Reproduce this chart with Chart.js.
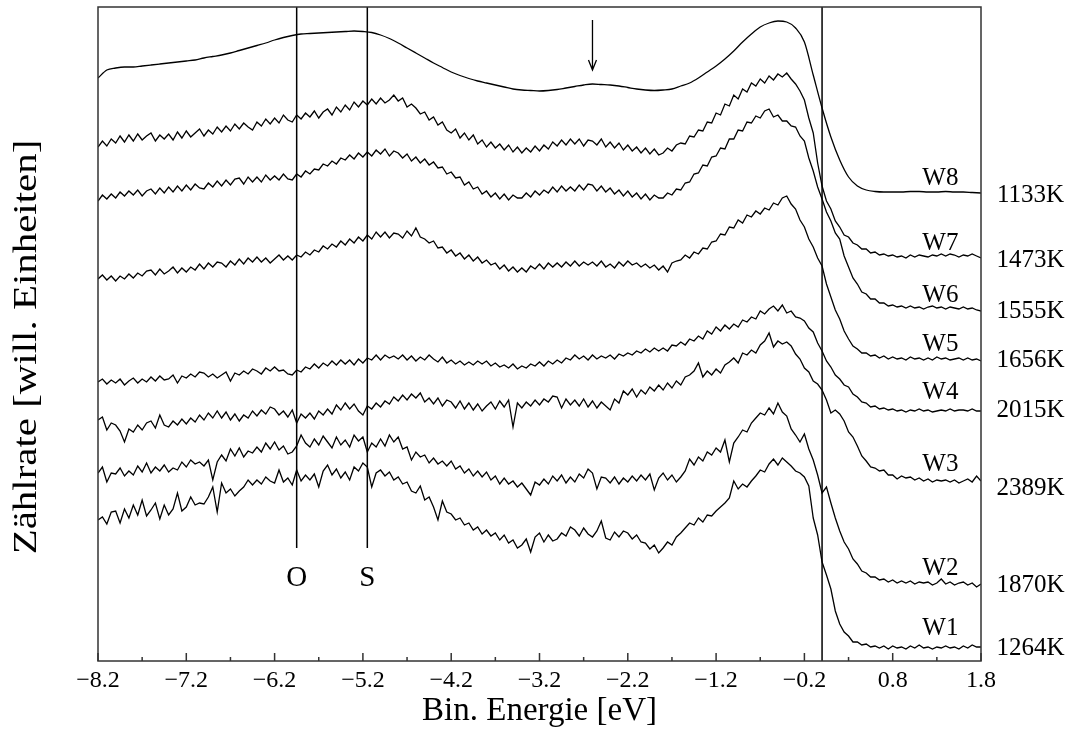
<!DOCTYPE html>
<html lang="de">
  <head>
    <meta charset="UTF-8" />
    <title>Valenzband-Spektren W1-W8</title>
    <script src="https://cdn.jsdelivr.net/npm/chart.js"></script>
    <style>
      body {
        margin: 0;
        padding: 0;
        background: #fff;
      }
      #spectra {
        display: block;
      }
    </style>
  </head>
  <body>
    <canvas id="spectra" width="1066" height="729"></canvas>
    <script>
      // energy grid of the measured spectra (eV)
      const fineStart = -8.2;
      const fineStep = 0.05; // W1..W7, 201 points
      const coarseStep = 0.1; // W8, 101 points

      // counts in arbitrary units, offsets already included
      const w8 = [
        583, 591, 593, 594, 594, 595, 596, 597, 598, 599,
        600, 601, 603, 604.5, 606, 608, 610.5, 613, 615.5, 618,
        621, 623.5, 625.5, 627, 627.5, 628, 628.5, 629, 629.5, 630,
        629.5, 628.5, 626, 622.5, 618, 613, 608, 603, 598, 593.5,
        589, 585.5, 582.5, 580, 578, 576, 574, 572, 571, 570.5,
        570, 570.5, 571.5, 573, 574.5, 576, 577, 576.5, 576, 575,
        573.5, 572, 571, 570.5, 571, 572, 575, 578, 583, 589,
        595, 602, 610, 619, 627, 634, 638, 640, 639, 633,
        619, 586, 553, 524, 501, 484, 475, 471, 469.5, 469,
        469, 469, 469.5, 469.5, 469, 469, 469.5, 469, 469, 468.5, 468
      ];
      const w7 = [
        514, 520, 515, 522, 518, 525, 519, 526, 520, 527, 521, 525, 528, 520, 526, 522,
        527, 521, 529, 523, 530, 524, 528, 532, 525, 531, 527, 534, 529, 535, 530, 537,
        532, 538, 534, 531, 539, 535, 542, 537, 543, 538, 546, 541, 539, 546, 542, 548,
        544, 550, 543, 549, 552, 546, 554, 549, 556, 551, 559, 554, 560, 556, 562, 557,
        563, 558, 561, 566, 560, 563, 554, 557, 553, 547, 549, 541, 544, 536, 539, 531,
        528, 532, 523, 528, 521, 526, 517, 521, 514, 519, 513, 517, 511, 516, 509, 514,
        508, 513, 509, 515, 510, 516, 512, 519, 515, 521, 516, 522, 517, 522, 515, 521,
        520, 516, 522, 514, 519, 513, 518, 511, 516, 510, 514, 508, 513, 507, 512, 506,
        508, 513, 510, 516, 518, 517, 525, 524, 531, 530, 539, 538, 548, 546, 557, 555,
        566, 562, 572, 569, 578, 575, 582, 578, 585, 581, 587, 584, 588, 582, 577, 570,
        561, 543, 528, 498, 475, 460, 452, 440, 434, 426, 424, 418, 416, 412, 412, 408,
        409, 406, 407, 405, 406, 404, 405, 403, 406, 404, 406, 405, 404, 406, 405, 407,
        405, 407, 406, 404, 406, 405, 407, 405, 403
      ];
      const w6 = [
        460, 466, 462, 467, 463, 469, 465, 470, 466, 471, 465, 470, 472, 467, 473, 468,
        474, 469, 475, 470, 476, 471, 477, 473, 472, 478, 474, 480, 475, 481, 476, 482,
        483, 477, 484, 479, 484, 479, 486, 481, 485, 481, 487, 482, 481, 487, 484, 490,
        487, 492, 491, 497, 495, 500, 497, 503, 501, 506, 502, 508, 504, 509, 505, 511,
        507, 512, 505, 510, 508, 503, 507, 500, 504, 498, 502, 496, 499, 493, 494, 487,
        489, 483, 484, 476, 479, 472, 474, 467, 470, 464, 468, 462, 467, 461, 466, 463,
        463, 468, 464, 470, 466, 471, 468, 474, 469, 475, 470, 474, 470, 476, 471, 477,
        476, 470, 475, 469, 473, 467, 471, 465, 470, 464, 468, 462, 467, 461, 466, 463,
        463, 468, 466, 472, 471, 478, 479, 487, 488, 496, 495, 504, 505, 513, 512, 522,
        522, 531, 530, 539, 538, 545, 543, 550, 552, 544, 546, 540, 540, 535, 534, 525,
        520, 503, 490, 474, 462, 449, 440, 428, 422, 405, 394, 383, 377, 369, 367, 362,
        362, 358, 358, 355, 356, 354, 355, 353, 355, 353, 354, 352, 354, 355, 353, 354,
        352, 354, 353, 352, 354, 352, 353, 351, 350
      ];
      const w5 = [
        382, 386, 381, 385, 380, 385, 382, 387, 383, 388, 385, 390, 391, 386, 392, 387,
        390, 394, 388, 393, 389, 394, 391, 397, 392, 398, 394, 399, 398, 394, 400, 396,
        402, 397, 403, 399, 404, 399, 403, 398, 402, 406, 401, 405, 401, 406, 404, 409,
        406, 411, 409, 415, 412, 417, 414, 420, 416, 422, 418, 424, 420, 426, 422, 429,
        424, 429, 423, 428, 427, 423, 430, 425, 433, 424, 422, 418, 420, 413, 414, 408,
        411, 405, 408, 402, 406, 400, 404, 398, 401, 396, 398, 392, 396, 390, 394, 389,
        393, 389, 395, 392, 397, 392, 398, 394, 398, 394, 399, 395, 400, 395, 399, 396,
        399, 395, 400, 394, 397, 393, 399, 395, 400, 396, 398, 394, 397, 393, 396, 391,
        395, 389, 398, 400, 401, 406, 403, 409, 407, 413, 412, 419, 420, 427, 426, 434,
        433, 441, 438, 446, 444, 450, 447, 453, 451, 458, 456, 463, 465, 457, 452, 441,
        434, 422, 414, 403, 395, 377, 364, 351, 342, 330, 322, 315, 312, 308, 308, 305,
        306, 303, 305, 302, 304, 302, 303, 301, 304, 302, 303, 301, 303, 301, 304, 302,
        303, 301, 302, 303, 301, 303, 301, 302, 300
      ];
      const w4 = [
        279, 282, 277, 281, 278, 282, 276, 280, 283, 278, 282, 279, 284, 280, 285, 281,
        282, 286, 278, 285, 283, 287, 284, 289, 288, 284, 287, 283, 286, 289, 280, 288,
        286, 290, 287, 292, 290, 287, 293, 290, 294, 290, 291, 287, 286, 291, 289, 294,
        292, 297, 293, 298, 295, 300, 296, 301, 297, 301, 296, 302, 298, 303, 301, 306,
        301, 306, 303, 305, 302, 306, 301, 305, 300, 304, 301, 306, 302, 299, 304, 298,
        301, 297, 300, 296, 299, 296, 300, 297, 300, 295, 298, 294, 296, 293, 297, 292,
        295, 293, 297, 295, 299, 295, 300, 297, 301, 298, 303, 301, 306, 302, 305, 301,
        306, 302, 305, 303, 306, 302, 307, 305, 308, 306, 310, 308, 312, 309, 313, 310,
        313, 310, 316, 315, 319, 316, 322, 320, 325, 322, 330, 327, 334, 330, 336, 332,
        337, 334, 341, 339, 344, 342, 350, 347, 352, 355, 350, 356, 348, 350, 344, 343,
        340, 333, 329, 318, 310, 300, 294, 286, 282, 276, 274, 267, 264, 259, 258, 254,
        255, 252, 253, 251, 252, 250, 251, 249, 251, 250, 252, 250, 251, 249, 250, 251,
        250, 252, 250, 251, 251, 250, 252, 250, 250
      ];
      const w3 = [
        241, 244, 231, 238, 236, 230, 219, 232, 229, 236, 231, 238, 240, 233, 246, 236,
        234, 240, 236, 242, 237, 243, 239, 246, 241, 248, 243, 250, 243, 249, 241, 247,
        240, 246, 243, 250, 245, 251, 247, 254, 252, 246, 250, 244, 251, 238, 247, 243,
        248, 242, 250, 246, 252, 247, 256, 251, 258, 252, 257, 250, 246, 255, 252, 258,
        254, 260, 257, 264, 260, 266, 261, 267, 263, 268, 259, 263, 257, 263, 255, 261,
        259, 253, 260, 252, 258, 251, 257, 250, 255, 259, 252, 260, 254, 261, 234, 258,
        253, 259, 255, 261, 256, 262, 259, 265, 264, 253, 262, 256, 261, 255, 262, 254,
        260, 253, 259, 255, 251, 262, 258, 270, 266, 272, 264, 271, 267, 274, 270, 276,
        271, 278, 273, 280, 276, 284, 286, 290, 298, 284, 290, 286, 292, 288, 296, 299,
        303, 298, 308, 306, 311, 308, 316, 320, 328, 314, 320, 317, 319, 315, 307, 302,
        293, 289, 280, 277, 271, 261, 248, 251, 247, 240, 229, 224, 215, 205, 200, 194,
        193, 190, 191, 186, 186, 182, 185, 183, 184, 181, 183, 180, 182, 179, 181, 180,
        181, 179, 181, 178, 180, 182, 179, 185, 180
      ];
      const w2 = [
        188, 194, 179, 188, 187, 193, 185, 190, 186, 195, 189, 198, 188, 194, 190, 196,
        189, 193, 191, 199, 194, 201, 197, 199, 195, 201, 181, 199, 206, 200, 212, 205,
        213, 204, 210, 208, 214, 209, 218, 212, 219, 211, 215, 207, 209, 215, 226, 218,
        214, 222, 216, 225, 219, 213, 224, 216, 221, 214, 226, 220, 224, 209, 218, 214,
        222, 215, 226, 219, 224, 212, 214, 201, 209, 204, 206, 198, 203, 197, 200, 195,
        200, 192, 195, 188, 192, 185, 190, 184, 189, 181, 185, 177, 183, 177, 180, 174,
        178, 172, 166, 179, 176, 182, 177, 185, 180, 186, 178, 184, 179, 187, 183, 192,
        188, 172, 184, 183, 178, 184, 177, 183, 179, 185, 180, 186, 181, 187, 171, 183,
        188, 181, 186, 179, 184, 190, 202, 196, 204, 200, 209, 206, 213, 209, 221, 199,
        218, 224, 231, 229, 238, 243, 248, 246, 253, 247, 258, 249, 245, 232, 226, 219,
        227, 212, 201, 186, 168, 174, 158, 143, 130, 119, 112, 102, 97, 90, 88, 84,
        84, 81, 82, 79, 81, 78, 80, 78, 80, 77, 79, 78, 79, 76, 78, 82,
        77, 79, 76, 78, 79, 76, 78, 74, 77
      ];
      const w1 = [
        141, 144, 137, 149, 150, 138, 152, 143, 156, 146, 161, 145, 151, 158, 142, 156,
        146, 152, 168, 150, 154, 164, 156, 158, 157, 164, 174, 149, 178, 168, 172, 165,
        170, 174, 181, 176, 181, 177, 184, 180, 178, 191, 179, 183, 176, 191, 180, 186,
        181, 187, 174, 190, 196, 186, 192, 183, 189, 181, 194, 190, 198, 194, 174, 188,
        191, 185, 189, 181, 184, 177, 179, 170, 168, 175, 161, 164, 154, 141, 160, 149,
        147, 141, 143, 136, 138, 131, 134, 127, 131, 125, 128, 121, 126, 118, 121, 113,
        116, 122, 109, 124, 128, 119, 126, 120, 122, 128, 125, 134, 131, 125, 133, 127,
        124, 130, 140, 123, 121, 129, 124, 130, 128, 122, 126, 119, 118, 112, 116, 108,
        113, 119, 116, 124, 128, 133, 138, 136, 143, 139, 146, 145, 150, 154, 158, 163,
        180, 172, 177, 174, 180, 185, 191, 189, 197, 202, 196, 203, 199, 195, 190, 188,
        184, 175, 143, 126, 99, 86, 72, 50, 37, 29, 25, 19, 19, 16, 17, 14,
        15, 13, 15, 12, 15, 13, 14, 12, 15, 13, 16, 13, 14, 12, 14, 13,
        15, 13, 14, 12, 15, 13, 16, 14, 14
      ];

      const waferNames = ["W1", "W2", "W3", "W4", "W5", "W6", "W7", "W8"];
      const temperatures = ["1264K", "1870K", "2389K", "2015K", "1656K", "1555K", "1473K", "1133K"];
      const nameLevels = [33, 93, 197, 269, 317, 366, 418, 483];
      const tempLevels = [13, 76, 173, 251, 301, 350, 401, 466];
      const nameEnergy = 1.34;
      const tempEnergy = 2.36;

      // x axis ticks
      const majorTicks = [-8.2, -7.2, -6.2, -5.2, -4.2, -3.2, -2.2, -1.2, -0.2, 0.8, 1.8];
      const minorTicks = [-7.7, -6.7, -5.7, -4.7, -3.7, -2.7, -1.7, -0.7, 0.3, 1.3];

      // O / S / Fermi markers and the arrow
      const markerEnergies = [-5.95, -5.15, 0.0];
      const markerBottoms = [113, 113, 0];
      const markerLabels = ["O", "S", ""];
      const markerTop = 654;
      const arrowEnergy = -2.6;
      const arrowFrom = 641;
      const arrowTo = 591;

      const yMax = 654;
      const serif = '"Liberation Serif", "Times New Roman", serif';

      function toPoints(values, step) {
        return values.map((v, i) => ({ x: fineStart + i * step, y: v }));
      }

      const spectra = [w1, w2, w3, w4, w5, w6, w7];
      const datasets = spectra.map((vals, k) => ({
        label: waferNames[k],
        data: toPoints(vals, fineStep),
        borderColor: "#000",
        borderWidth: 1.3,
        pointRadius: 0,
        tension: 0,
      }));
      datasets.push({
        label: "W8",
        data: toPoints(w8, coarseStep),
        borderColor: "#000",
        borderWidth: 1.3,
        pointRadius: 0,
        cubicInterpolationMode: "monotone",
      });
      markerEnergies.forEach((e, i) => {
        datasets.push({
          label: "marker" + i,
          data: [
            { x: e, y: markerBottoms[i] },
            { x: e, y: markerTop },
          ],
          borderColor: "#000",
          borderWidth: 1.5,
          pointRadius: 0,
        });
      });

      const fmt = (v) => (v < 0 ? "\u2212" : "") + Math.abs(v).toFixed(1);

      const overlay = {
        id: "overlay",
        afterDraw(chart) {
          const { ctx, chartArea: a, scales } = chart;
          const x = scales.x;
          const y = scales.y;
          ctx.save();

          // frame
          ctx.strokeStyle = "#333";
          ctx.lineWidth = 1.5;
          ctx.strokeRect(a.left, a.top, a.right - a.left, a.bottom - a.top);

          // inward ticks
          ctx.beginPath();
          majorTicks.forEach((v) => {
            const px = x.getPixelForValue(v);
            ctx.moveTo(px, a.bottom);
            ctx.lineTo(px, a.bottom - 8);
          });
          minorTicks.forEach((v) => {
            const px = x.getPixelForValue(v);
            ctx.moveTo(px, a.bottom);
            ctx.lineTo(px, a.bottom - 4);
          });
          ctx.stroke();

          // arrow
          const ax = x.getPixelForValue(arrowEnergy);
          const ay1 = y.getPixelForValue(arrowFrom);
          const ay2 = y.getPixelForValue(arrowTo);
          ctx.strokeStyle = "#000";
          ctx.lineWidth = 1.3;
          ctx.beginPath();
          ctx.moveTo(ax, ay1);
          ctx.lineTo(ax, ay2);
          ctx.moveTo(ax - 4, ay2 - 10);
          ctx.lineTo(ax, ay2);
          ctx.lineTo(ax + 4, ay2 - 10);
          ctx.stroke();

          ctx.fillStyle = "#000";
          ctx.textAlign = "center";
          ctx.textBaseline = "middle";

          // O / S labels
          ctx.font = "29px " + serif;
          markerEnergies.forEach((e, i) => {
            if (markerLabels[i]) {
              ctx.fillText(markerLabels[i], x.getPixelForValue(e), y.getPixelForValue(83));
            }
          });

          // wafer names and temperatures
          ctx.font = "25px " + serif;
          waferNames.forEach((n, i) => {
            ctx.fillText(n, x.getPixelForValue(nameEnergy), y.getPixelForValue(nameLevels[i]));
            ctx.fillText(temperatures[i], x.getPixelForValue(tempEnergy), y.getPixelForValue(tempLevels[i]));
          });

          // axis titles
          ctx.font = "33px " + serif;
          ctx.fillText("Bin. Energie [eV]", (a.left + a.right) / 2, 711);
          ctx.translate(27, 347);
          ctx.rotate(-Math.PI / 2);
          ctx.scale(1.24, 1);
          ctx.fillText("Zählrate [will. Einheiten]", 0, 0);

          ctx.restore();
        },
      };

      new Chart(document.getElementById("spectra"), {
        type: "line",
        data: { datasets },
        options: {
          responsive: false,
          animation: false,
          events: [],
          layout: { padding: { left: 98, right: 85, top: 7, bottom: 0 } },
          plugins: { legend: { display: false }, tooltip: { enabled: false } },
          scales: {
            x: {
              type: "linear",
              min: -8.2,
              max: 1.8,
              afterBuildTicks: (scale) => {
                scale.ticks = majorTicks.map((v) => ({ value: v }));
              },
              afterFit: (scale) => {
                scale.height = 68;
              },
              grid: { display: false, drawTicks: false, tickLength: 0 },
              border: { display: false },
              ticks: {
                callback: fmt,
                color: "#000",
                maxRotation: 0,
                padding: 5,
                font: { family: serif, size: 24 },
              },
            },
            y: { display: false, min: 0, max: yMax },
          },
        },
        plugins: [overlay],
      });
    </script>
  </body>
</html>
